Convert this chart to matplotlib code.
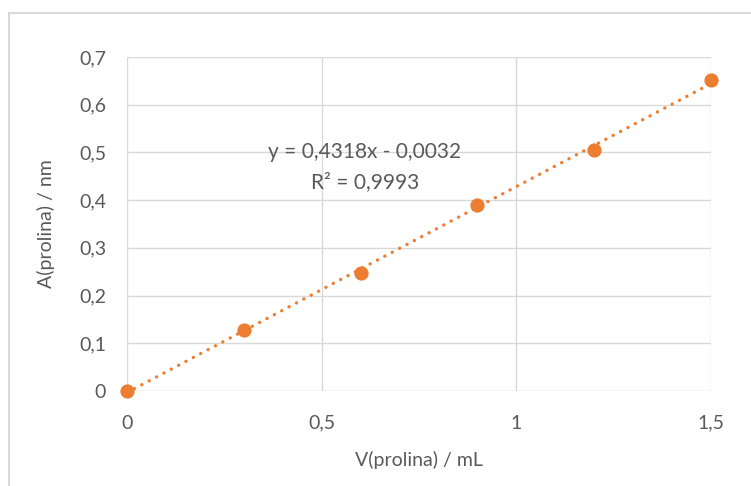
import numpy as np
import matplotlib.pyplot as plt
from matplotlib.patches import Rectangle

# Calibration data
v_prolina = [0.0, 0.3, 0.6, 0.9, 1.2, 1.5]
a_prolina = [0.0, 0.128, 0.248, 0.390, 0.505, 0.652]
x_ticks = [0, 0.5, 1, 1.5]
x_tick_labels = ['0', '0,5', '1', '1,5']
y_ticks = [0, 0.1, 0.2, 0.3, 0.4, 0.5, 0.6, 0.7]
y_tick_labels = ['0', '0,1', '0,2', '0,3', '0,4', '0,5', '0,6', '0,7']
eq_line = 'y = 0,4318x - 0,0032'
r2_line = 'R² = 0,9993'

ORANGE = '#ED7D31'
GRID = '#d9d9d9'
TXT = '#595959'

plt.rcParams['font.family'] = ['Lato', 'DejaVu Sans']

fig = plt.figure(figsize=(7.51, 4.86), dpi=100)
ax = fig.add_axes([127 / 751, 95 / 486, 584 / 751, 334 / 486])

# chart border (cut off at right / bottom like the screenshot)
fig.patches.append(Rectangle((9 / 751, -0.1), 1.2, 1 - 13 / 486 + 0.1,
                             transform=fig.transFigure, fill=False,
                             edgecolor=GRID, linewidth=1.5))

# linear trendline, round dots
slope, icpt = np.polyfit(v_prolina, a_prolina, 1)
xs = np.array([min(v_prolina), max(v_prolina)])
ax.plot(xs, slope * xs + icpt, color=ORANGE, linewidth=2.4,
        linestyle=(0, (0.05, 2.45)), dash_capstyle='round', zorder=2)

ax.scatter(v_prolina, a_prolina, s=105, color=ORANGE, zorder=3,
           clip_on=False, linewidths=0)

ax.set_xlim(0, 1.5)
ax.set_ylim(0, 0.7)
ax.set_xticks(x_ticks)
ax.set_xticklabels(x_tick_labels)
ax.set_yticks(y_ticks)
ax.set_yticklabels(y_tick_labels)
ax.tick_params(length=0, labelsize=14, colors=TXT)
ax.tick_params(axis='x', pad=17)
ax.tick_params(axis='y', pad=15)
ax.grid(True, color=GRID, linewidth=1)
ax.set_axisbelow(True)
for s in ax.spines.values():
    s.set_visible(False)

ax.set_xlabel('V(prolina) / mL', fontsize=14, color=TXT, labelpad=14)
ax.set_ylabel('A(prolina) / nm', fontsize=14, color=TXT, labelpad=17)

ax.text(0.611, 0.501, eq_line, fontsize=15, color=TXT, ha='center', va='center')
ax.text(0.611, 0.438, r2_line, fontsize=15, color=TXT, ha='center', va='center')

plt.savefig('out.png', dpi=100)
